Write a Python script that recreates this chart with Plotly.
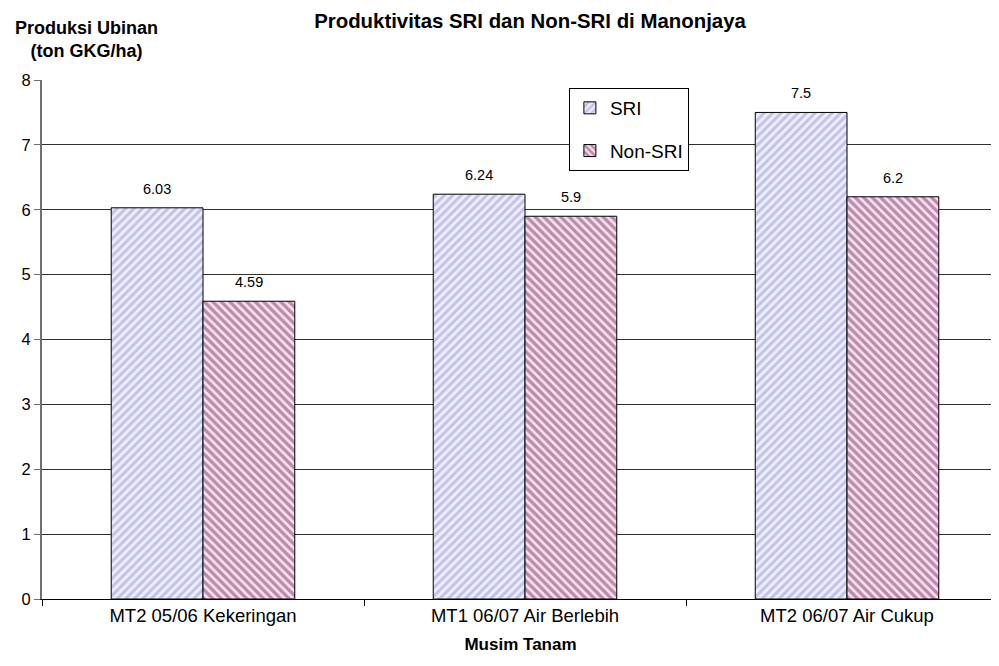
import plotly.graph_objects as go

# data
categories = ["MT2 05/06 Kekeringan", "MT1 06/07 Air Berlebih", "MT2 06/07 Air Cukup"]
sri = [6.03, 6.24, 7.5]
non_sri = [4.59, 5.9, 6.2]
sri_labels = ["6.03", "6.24", "7.5"]
non_sri_labels = ["4.59", "5.9", "6.2"]

FONT = "Liberation Sans, Arial, sans-serif"
BARGAP = 0.43

fig = go.Figure()

fig.add_trace(go.Bar(
    x=categories, y=sri, name="SRI", legendgroup="a",
    marker=dict(
        color="#e4e4f8",
        line=dict(color="black", width=1),
        pattern=dict(shape="/", fgcolor="#9494dc", bgcolor="#eeeefb", size=6, solidity=0.5),
    ),
))
fig.add_trace(go.Bar(
    x=categories, y=non_sri, name="Non-SRI", legendgroup="b",
    marker=dict(
        color="#f0d8ea",
        line=dict(color="black", width=1),
        pattern=dict(shape="\\", fgcolor="#833260", bgcolor="#f6e2f0", size=6, solidity=0.55),
    ),
))

# value labels above the bars
half = (1 - BARGAP) / 4
for i in range(len(categories)):
    for off, vals, labs in ((-half, sri, sri_labels), (half, non_sri, non_sri_labels)):
        fig.add_annotation(
            x=i + off, y=vals[i], xref="x", yref="y",
            text=labs[i], showarrow=False,
            yanchor="bottom", yshift=9,
            font=dict(size=14.5, family=FONT, color="black"),
        )

fig.update_layout(
    width=999, height=666,
    margin=dict(l=34, r=8, t=72, b=75, autoexpand=False),
    paper_bgcolor="white", plot_bgcolor="white",
    font=dict(family=FONT, size=16, color="black"),
    barmode="group", bargap=BARGAP, bargroupgap=0,
    title=dict(text="<b>Produktivitas SRI dan Non-SRI di Manonjaya</b>",
               x=522 / 999, xanchor="center", y=1 - 13 / 666, yanchor="middle",
               font=dict(size=20.4, family=FONT)),
    showlegend=True,
    legend=dict(
        x=550 / 999, xanchor="left", y=1 - 80 / 666, yref="container", yanchor="top",
        bordercolor="black", borderwidth=1, bgcolor="white",
        font=dict(size=19, family=FONT), traceorder="grouped", tracegroupgap=15,
        itemwidth=30,
    ),
)

fig.update_xaxes(
    range=[-0.5, 2.472],
    showline=True, linecolor="black", linewidth=1,
    ticks="outside", tickson="boundaries", ticklen=6, tickcolor="black",
    showgrid=False,
    tickfont=dict(size=18.5, family=FONT),
    title=dict(text="<b>Musim Tanam</b>", font=dict(size=17, family=FONT), standoff=12),
)
fig.update_yaxes(
    range=[0, 8], dtick=1,
    showline=True, linecolor="#707070", linewidth=2,
    ticks="outside", ticklen=6, tickcolor="#707070",
    showgrid=True, gridcolor="#303030", gridwidth=1,
    zeroline=False,
    tickfont=dict(size=16.5, family=FONT),
)

fig.add_annotation(
    text="<b>Produksi Ubinan<br>(ton GKG/ha)</b>",
    xref="paper", yref="paper", x=(86 - 42) / 957, xanchor="center",
    y=1 + (80 - 40) / 519, yanchor="middle",
    showarrow=False, align="center",
    font=dict(size=18, family=FONT),
)

fig.write_html("out.html")
